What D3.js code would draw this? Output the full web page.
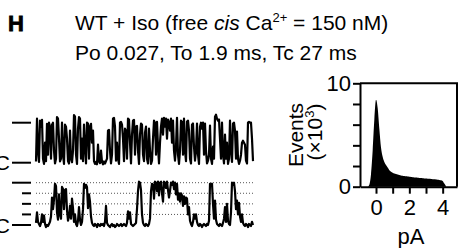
<!DOCTYPE html>
<html><head><meta charset="utf-8">
<script src="https://cdn.jsdelivr.net/npm/d3@7"></script>
<style>
html,body{margin:0;padding:0;background:#fff;}
svg{display:block;font-family:"Liberation Sans",Arial,Helvetica,sans-serif;}
</style></head>
<body>
<svg id="chart" width="461" height="248"></svg>
<script>
// ---- data ----
const panelLabel = "H";
const titleLine2 = "Po 0.027, To 1.9 ms, Tc 27 ms";
// single-channel trace, one sample per point (fraction of unitary open level)
const topTrace = [
 0.03,1.1,0.3,0.02,1.05,0.9,1.07,0.1,-0.03,0.5,
 0.04,0.97,0.2,1.0,0.9,0.1,0.95,1.0,0.3,-0.02,
 0.1,1.14,1.1,0.6,0.03,0.1,1.0,0.2,-0.03,0.95,
 0.9,0.6,0.04,-0.02,0.8,0.1,0.01,0.3,1.19,1.15,
 0.2,-0.03,0.85,1.14,1.1,0.1,0.6,0.04,0.95,0.4,
 -0.02,1.0,0.98,0.1,0.9,0.97,0.5,0.8,0.04,-0.03,
 0.02,-0.04,0.45,0.03,-0.01,0.3,0.02,-0.04,0.03,-0.02,
 0.04,0.1,0.8,0.82,0.3,-0.02,0.2,1.1,1.12,0.9,
 0.05,0.5,0.1,-0.03,1.0,1.02,0.95,0.6,0.04,0.85,
 0.8,0.1,1.1,1.08,0.5,-0.02,0.7,1.05,1.07,0.2,
 0.9,0.92,0.3,-0.03,0.7,0.98,0.95,0.2,0.04,0.75,
 0.9,0.1,-0.02,0.85,0.3,-0.03,0.05,0.6,1.05,1.0,
 0.2,1.02,0.4,-0.02,0.5,0.9,1.1,0.7,1.12,0.9,
 1.1,0.6,1.08,1.0,0.8,1.1,0.5,1.05,0.3,0.05,
 0.4,1.12,0.2,-0.03,0.3,1.05,1.02,0.2,1.1,0.3,
 0.04,1.03,1.05,0.8,0.1,-0.02,0.95,0.98,0.4,0.05,
 0.3,0.98,0.2,-0.03,0.9,1.0,0.85,1.0,0.2,0.98,
 0.3,-0.02,0.05,0.2,0.93,0.1,-0.03,0.4,0.1,1.15,
 1.2,1.1,1.05,1.08,0.6,0.1,1.0,0.2,-0.02,0.7,
 0.1,0.5,-0.03,0.1,1.05,0.3,0.02,0.98,1.0,0.8,
 0.1,0.78,0.1,-0.03,0.05,0.2,0.5,0.55,0.5,0.45,
 0.05,-0.02,1.0,1.02,1.0,1.0,0.6,0.04
];
// multi-channel trace, one sample per point (number of open channels)
const bottomTrace = [
 0.2,1.2,0.3,0.1,-0.1,0.2,1.0,0.3,0.9,0.1,
 -0.2,0.0,-0.1,0.1,0.3,0.8,2.6,1.5,2.4,3.9,
 3.7,1.2,0.5,2.9,1.0,0.6,3.6,3.4,1.5,3.3,
 3.4,1.4,0.4,0.8,1.8,0.6,2.5,1.6,0.3,1.0,
 0.1,-0.1,0.4,1.7,0.5,0.0,0.3,1.5,3.9,3.5,
 3.8,3.6,1.6,2.9,2.2,0.8,0.2,0.0,-0.1,0.1,
 0.0,-0.2,0.1,0.0,-0.1,0.1,0.0,0.1,-0.1,0.3,
 1.8,0.2,0.0,-0.1,-0.2,0.0,0.1,-0.1,0.0,-0.2,
 -0.1,0.1,0.0,-0.1,0.0,0.1,-0.1,0.0,0.1,0.0,
 -0.1,0.2,1.3,0.6,1.2,0.1,0.0,-0.1,0.0,0.1,
 0.2,1.5,3.2,4.1,4.0,3.3,1.0,0.2,0.0,-0.1,
 0.1,0.0,-0.1,0.1,0.6,3.2,3.9,3.8,2.5,4.1,
 4.0,3.2,4.1,2.8,4.0,4.1,3.0,2.2,4.1,4.0,
 3.5,4.1,3.3,2.6,3.2,4.0,3.8,4.1,3.4,4.0,
 2.9,3.9,2.4,3.0,2.2,3.0,2.8,1.8,2.7,2.0,
 2.6,2.5,1.0,1.7,0.4,0.1,-0.1,0.3,1.0,0.6,
 1.0,0.3,0.0,-0.1,0.1,0.0,-0.2,0.0,0.1,0.0,
 -0.1,0.1,0.0,0.4,3.9,3.7,3.9,2.0,0.6,2.3,
 0.5,0.1,0.0,-0.1,0.1,0.0,-0.1,0.2,0.6,1.7,
 0.3,2.0,0.4,0.1,0.0,1.2,4.0,3.8,4.0,3.2,
 1.5,2.3,1.0,2.1,0.8,0.3,1.0,0.2,0.0,-0.1,
 0.1,0.0,-0.2,0.1,0.0,-0.1,0.3,0.0
];
const bottomLevels = [1, 2, 3, 4];
// amplitude histogram
const histPA = [-0.5,-0.4,-0.3,-0.2,-0.1,0.0,0.1,0.2,0.3,0.4,0.5,0.6,0.7,0.8,0.9,1.0,1.1,1.2,1.3,1.4,1.5,1.6,1.7,1.8,1.9,2.0,2.1,2.2,2.3,2.4,2.5,2.6,2.7,2.8,2.9,3.0,3.1,3.2,3.3,3.4,3.5,3.6,3.7,3.8,3.9,4.0,4.1,4.2];
const histEvents = [0,0.2,1.2,3.5,6.5,8.4,7.6,5.6,3.8,2.9,2.4,2.1,1.85,1.6,1.45,1.35,1.28,1.22,1.17,1.12,1.09,1.06,1.03,1.0,0.98,0.96,0.94,0.92,0.9,0.88,0.87,0.85,0.84,0.82,0.8,0.79,0.77,0.76,0.74,0.73,0.72,0.7,0.68,0.66,0.62,0.55,0.3,0.05];
const xTicks = [0, 1, 2, 3, 4];
const xTickLabels = ["0", "", "2", "", "4"];
const yTicks = [0, 2, 4, 6, 8, 10];
const yTickLabels = ["0", "", "", "", "", "10"];

// ---- drawing ----
const svg = d3.select("#chart");

// title
svg.append("text").attr("x", 8).attr("y", 30.5).attr("font-size", 22).attr("font-weight", "900")
  .attr("stroke", "#000").attr("stroke-width", 0.8).text(panelLabel);
const t1 = svg.append("text").attr("x", 75).attr("y", 30).attr("font-size", 21);
t1.append("tspan").text("WT + Iso (free ");
t1.append("tspan").attr("font-style", "italic").text("cis");
t1.append("tspan").text(" Ca");
t1.append("tspan").attr("font-size", 13).attr("dy", -8).text("2+");
t1.append("tspan").attr("dy", 8).text(" = 150 nM)");
svg.append("text").attr("x", 75).attr("y", 60).attr("font-size", 21).text(titleLine2);

// top trace
const xTop = d3.scaleLinear().domain([0, topTrace.length - 1]).range([36, 253]);
const yTop = d3.scaleLinear().domain([0, 1]).range([162.7, 122.7]);
svg.append("path").datum(topTrace)
  .attr("d", d3.line().x((d, i) => xTop(i)).y(d => yTop(d)))
  .attr("fill", "none").attr("stroke", "#000").attr("stroke-width", 2.2).attr("stroke-linejoin", "round");

// top markers
[1, 0].forEach(lv => {
  svg.append("line").attr("x1", 12).attr("x2", 31).attr("y1", yTop(lv)).attr("y2", yTop(lv))
    .attr("stroke", "#000").attr("stroke-width", 2);
});
svg.append("text").attr("x", 10).attr("y", yTop(0) + 7.5).attr("text-anchor", "end").attr("font-size", 21).text("C");

// bottom trace
const xBot = d3.scaleLinear().domain([0, bottomTrace.length - 1]).range([36, 253]);
const yBot = d3.scaleLinear().domain([0, 4]).range([225, 182.7]);
svg.append("g").selectAll("line").data(bottomLevels).join("line")
  .attr("x1", 36).attr("x2", 254).attr("y1", d => yBot(d)).attr("y2", d => yBot(d))
  .attr("stroke", "#555").attr("stroke-width", 1).attr("stroke-dasharray", "1,2");
svg.append("path").datum(bottomTrace)
  .attr("d", d3.line().x((d, i) => xBot(i)).y(d => yBot(d)))
  .attr("fill", "none").attr("stroke", "#000").attr("stroke-width", 2.2).attr("stroke-linejoin", "round");
[0, 1, 2, 3, 4].forEach(lv => {
  const x0 = (lv === 0 || lv === 4) ? 12 : 22;
  svg.append("line").attr("x1", x0).attr("x2", 31).attr("y1", yBot(lv)).attr("y2", yBot(lv))
    .attr("stroke", "#000").attr("stroke-width", 2);
});
svg.append("text").attr("x", 10).attr("y", yBot(0) + 7.5).attr("text-anchor", "end").attr("font-size", 21).text("C");

// histogram
const xH = d3.scaleLinear().domain([-0.96, 4.86]).range([360, 457]);
const yH = d3.scaleLinear().domain([0, 10]).range([186.7, 83.3]);
const histData = histPA.map((p, i) => [p, histEvents[i]]);
svg.append("path").datum(histData)
  .attr("d", d3.area().x(d => xH(d[0])).y0(yH(0)).y1(d => yH(d[1])).curve(d3.curveMonotoneX))
  .attr("fill", "#000");
// frame
svg.append("path").attr("d", `M${xH.range()[0]},${yH(10)}H${xH.range()[1]}V${yH(0)}`)
  .attr("fill", "none").attr("stroke", "#000").attr("stroke-width", 2);

const gx = svg.append("g").attr("transform", `translate(0,${yH(0)})`)
  .call(d3.axisBottom(xH).tickValues(xTicks).tickSize(7).tickSizeOuter(0).tickFormat((d, i) => xTickLabels[i]));
const gy = svg.append("g").attr("transform", `translate(${xH.range()[0]},0)`)
  .call(d3.axisLeft(yH).tickValues(yTicks).tickSize(7).tickSizeOuter(0).tickFormat((d, i) => yTickLabels[i]));
[gx, gy].forEach(g => {
  g.select(".domain").attr("stroke-width", 2);
  g.selectAll(".tick line").attr("stroke-width", 2);
  g.selectAll(".tick text").attr("font-size", 22).attr("font-family", "Liberation Sans, Arial, sans-serif").attr("fill", "#000");
});
gx.selectAll(".tick text").attr("dy", "0.71em").attr("y", 13);
gy.selectAll(".tick text").attr("x", -9);

svg.append("text").attr("x", 411).attr("y", 244).attr("text-anchor", "middle").attr("font-size", 22).text("pA");
const yl = svg.append("text").attr("transform", `translate(303,135) rotate(-90)`).attr("text-anchor", "middle").attr("font-size", 21);
yl.text("Events");
const yl2 = svg.append("text").attr("transform", `translate(322,132) rotate(-90)`).attr("text-anchor", "middle").attr("font-size", 21);
yl2.append("tspan").text("(×10");
yl2.append("tspan").attr("font-size", 13).attr("dy", -8).text("3");
yl2.append("tspan").attr("dy", 8).text(")");
</script>
</body></html>
